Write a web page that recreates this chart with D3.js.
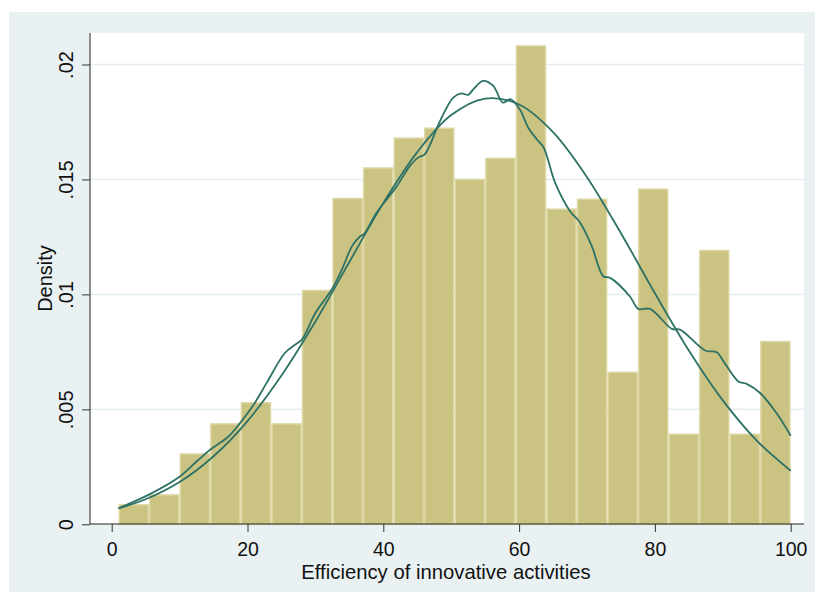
<!DOCTYPE html>
<html>
<head>
<meta charset="utf-8">
<script src="https://cdn.jsdelivr.net/npm/d3@7"></script>
<style>
  body { margin: 0; background: #fff; }
  svg { display: block; font-family: "Liberation Sans", Arial, sans-serif; }
</style>
</head>
<body>
<div id="chart-area"></div>
<script>
// histogram bins: start at 1, width 4.5
const binStart = 1
const binWidth = 4.5
const binDensity = [0.00088, 0.00131, 0.00309, 0.0044, 0.00532, 0.0044, 0.0102, 0.0142,
  0.01553, 0.01683, 0.01726, 0.01503, 0.01595, 0.02084, 0.01374, 0.01417,
  0.00664, 0.01461, 0.00395, 0.01194, 0.00395, 0.00798]

// kernel density
const kdX = [1, 5.4, 10, 12.5, 14.5, 17.2, 18.9, 20.9, 22.8, 25.5, 27, 28, 30, 32.4, 33.9,
  35.4, 36.6, 37.1, 39, 40.5, 42, 43.9, 45.1, 46.1, 48.35, 50.3, 51.5, 52.5, 53.25,
  54.7, 56.2, 57.6, 58.7, 60.1, 61.35, 62.6, 63.6, 65.3, 67.5, 69, 70.7, 72.4, 73.4,
  76.3, 77.55, 79.3, 82.5, 83.7, 87.4, 89.1, 90.3, 92.3, 93.5, 95.5, 97.9, 100]
const kdY = [0.0007, 0.00128, 0.00207, 0.00273, 0.00324, 0.00382, 0.0044, 0.0052, 0.00614,
  0.00745, 0.00781, 0.00803, 0.00919, 0.01021, 0.01108, 0.0121, 0.01253, 0.01261,
  0.01355, 0.01413, 0.01471, 0.01558, 0.01595, 0.01609, 0.01754, 0.01856, 0.01874,
  0.01868, 0.01892, 0.01929, 0.01907, 0.01834, 0.01849, 0.01805, 0.01725, 0.01675,
  0.0164, 0.01486, 0.01362, 0.01312, 0.0121, 0.01079, 0.01072, 0.00992, 0.00937,
  0.00937, 0.0085, 0.00847, 0.00756, 0.00748, 0.007, 0.00621, 0.00611, 0.00571,
  0.00484, 0.00385]

// normal density overlay
const nX = [1, 5, 10, 15, 20, 25, 30, 35, 40, 45, 50, 55, 60, 65, 70, 75, 80, 85, 90, 95, 100]
const nY = [0.00069, 0.00109, 0.00184, 0.00296, 0.00449, 0.00647, 0.00882, 0.01141, 0.01397,
  0.01619, 0.0178, 0.01852, 0.01826, 0.01706, 0.0151, 0.01266, 0.01005, 0.00756,
  0.00539, 0.00364, 0.00233]

const xTicks = [0, 20, 40, 60, 80, 100]
const yTicks = [0, 0.005, 0.01, 0.015, 0.02]
const yTickLabels = ["0", ".005", ".01", ".015", ".02"]

const W = 815, H = 598
const plot = { left: 90, right: 804, top: 33, bottom: 524 }

const svg = d3.select("#chart-area").append("svg")
	.attr("width", W)
	.attr("height", H)

// outer graph region
svg.append("rect")
	.attr("x", 9).attr("y", 12)
	.attr("width", W - 9).attr("height", 580)
	.attr("fill", "#e9f1f3")

svg.append("rect")
	.attr("x", plot.left).attr("y", plot.top)
	.attr("width", plot.right - plot.left).attr("height", plot.bottom - plot.top)
	.attr("fill", "#fff")

const x = d3.scaleLinear().domain([0, 100]).range([111.7, 790.7])
const y = d3.scaleLinear().domain([0, 0.02]).range([524.3, 64.5])

// grid
svg.append("g").selectAll("line")
	.data(yTicks.slice(1))
	.enter().append("line")
	.attr("x1", plot.left).attr("x2", plot.right)
	.attr("y1", d => y(d)).attr("y2", d => y(d))
	.attr("stroke", "#e4edf0")
	.attr("stroke-width", 1.5)

// bars
const bins = binDensity.map((d, i) => ({ x0: binStart + i * binWidth, x1: binStart + (i + 1) * binWidth, d: d }))
svg.append("g").selectAll("rect")
	.data(bins)
	.enter().append("rect")
	.attr("x", d => x(d.x0) + 0.75)
	.attr("y", d => y(d.d) + 0.75)
	.attr("width", d => x(d.x1) - x(d.x0) - 1.5)
	.attr("height", d => y(0) - y(d.d) - 0.75)
	.attr("fill", "#cbc381")
	.attr("stroke", "#ddd7a3")
	.attr("stroke-width", 1.5)

// density lines
const line = d3.line()
	.x(d => x(d[0]))
	.y(d => y(d[1]))
	.curve(d3.curveCatmullRom.alpha(0.5))

svg.append("path")
	.datum(nX.map((v, i) => [v, nY[i]]))
	.attr("d", line)
	.attr("fill", "none")
	.attr("stroke", "#2d7265")
	.attr("stroke-width", 1.8)

svg.append("path")
	.datum(kdX.map((v, i) => [v, kdY[i]]))
	.attr("d", line)
	.attr("fill", "none")
	.attr("stroke", "#2d7265")
	.attr("stroke-width", 1.8)

// axes
const xAxis = svg.append("g")
	.attr("transform", `translate(0,${plot.bottom})`)
	.call(d3.axisBottom(x).tickValues(xTicks).tickSize(8).tickPadding(4).tickSizeOuter(0))
xAxis.select(".domain").attr("d", `M${plot.left},0H${plot.right}`)
xAxis.selectAll("line").attr("stroke", "#333")
xAxis.selectAll("text")
	.attr("font-size", 19.5)
	.attr("fill", "#111")
	.attr("dy", 0)
	.attr("y", 31.5)

const yAxis = svg.append("g")
	.attr("transform", `translate(${plot.left},0)`)
	.call(d3.axisLeft(y).tickValues(yTicks).tickFormat((d, i) => yTickLabels[i]).tickSize(8).tickSizeOuter(0))
yAxis.select(".domain").attr("d", `M0,${plot.top}V${plot.bottom}`)
yAxis.selectAll("line").attr("stroke", "#333")
yAxis.selectAll("text")
	.attr("font-size", 20)
	.attr("fill", "#111")
	.attr("text-anchor", "middle")
	.attr("transform", "rotate(-90)")
	.attr("x", 0)
	.attr("dy", 0)
	.attr("y", -17)
svg.selectAll(".domain").attr("stroke", "#222")

// axis titles
svg.append("text")
	.attr("x", 446)
	.attr("y", 578.5)
	.attr("text-anchor", "middle")
	.attr("font-size", 20.3)
	.attr("fill", "#111")
	.text("Efficiency of innovative activities")

svg.append("text")
	.attr("transform", `translate(52,${(plot.top + plot.bottom) / 2}) rotate(-90)`)
	.attr("text-anchor", "middle")
	.attr("font-size", 20)
	.attr("fill", "#111")
	.text("Density")
</script>
</body>
</html>
